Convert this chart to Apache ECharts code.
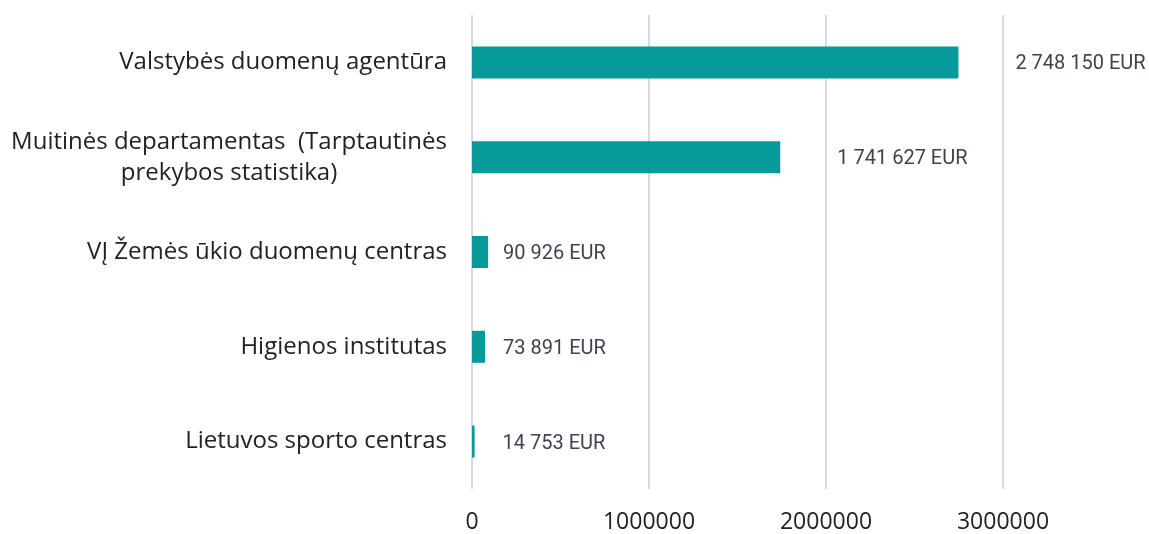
<!DOCTYPE html>
<html>
<head>
<meta charset="utf-8">
<script src="https://cdn.jsdelivr.net/npm/echarts@6/dist/echarts.min.js"></script>
<style>
  html, body { margin: 0; padding: 0; background: #fff; }
  #main { width: 1149px; height: 534px; }
</style>
</head>
<body>
<div id="main"></div>
<script>
// kategorijos (iš viršaus į apačią)
var categories = [
  'Valstybės duomenų agentūra',
  'Muitinės departamentas  (Tarptautinės\nprekybos statistika)',
  'VĮ Žemės ūkio duomenų centras',
  'Higienos institutas',
  'Lietuvos sporto centras'
];
var amounts = [2748150, 1741627, 90926, 73891, 14753];
var xTicks = [0, 1000000, 2000000, 3000000];

// etikečių atstumai nuo stulpelio galo (px)
var labelGaps = [57, 57, 15, 18, 28];

function fmt(v) {
  return String(v).replace(/\B(?=(\d{3})+(?!\d))/g, ' ') + ' EUR';
}

var myChart = echarts.init(document.getElementById('main'));

myChart.setOption({
  animation: false,
  grid: { left: 472, right: 146, top: 15, bottom: 44, containLabel: false },
  xAxis: {
    type: 'value',
    min: xTicks[0],
    max: xTicks[xTicks.length - 1],
    interval: 1000000,
    axisLine: { show: false },
    axisTick: { show: false },
    splitLine: { show: true, lineStyle: { color: '#d9d9d9', width: 2 } },
    axisLabel: {
      margin: 22,
      fontFamily: 'Open Sans',
      fontSize: 23,
      color: '#222',
      formatter: function (v) { return String(v); }
    }
  },
  yAxis: {
    type: 'category',
    inverse: true,
    data: categories,
    axisLine: { show: false },
    axisTick: { show: false },
    axisLabel: {
      margin: 25,
      color: '#222',
      fontFamily: 'Open Sans',
      fontSize: 24,
      lineHeight: 31,
      formatter: function (v) {
        return v.split('\n').map(function (s) { return '{c|' + s + '}'; }).join('\n');
      },
      rich: {
        c: { align: 'center', fontFamily: 'Open Sans', fontSize: 24, color: '#222', lineHeight: 31 }
      }
    }
  },
  series: [{
    type: 'bar',
    barWidth: 32,
    itemStyle: { color: '#079a9a' },
    data: amounts.map(function (v, i) {
      return {
        value: v,
        label: { distance: labelGaps[i] }
      };
    }),
    label: {
      show: true,
      position: 'right',
      offset: [0, 2],
      fontFamily: 'Roboto',
      fontSize: 20,
      color: '#3d4350',
      formatter: function (p) { return fmt(p.value); }
    }
  }]
});
</script>
</body>
</html>
